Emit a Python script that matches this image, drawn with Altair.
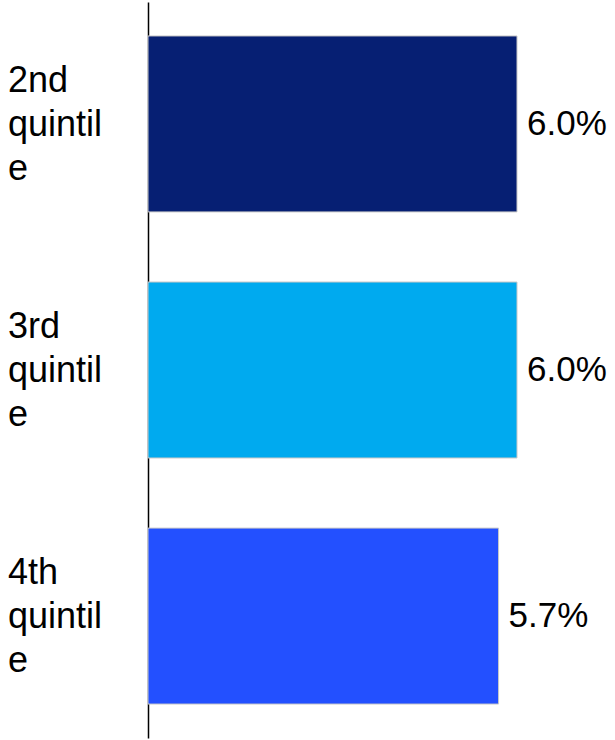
import altair as alt
import pandas as pd

categories = ["2nd\nquintil\ne", "3rd\nquintil\ne", "4th\nquintil\ne"]
values = [6.0, 6.0, 5.7]
labels = ["6.0%", "6.0%", "5.7%"]
colors = ["#061f73", "#00aaef", "#2350ff"]

df = pd.DataFrame({"cat": categories, "val": values, "lab": labels, "col": colors})

y = alt.Y("cat:N", sort=categories,
          scale=alt.Scale(paddingInner=0.285, paddingOuter=0.138),
          axis=alt.Axis(labels=False, ticks=False, title=None, domainColor="#000000",
                        domainWidth=1.5, grid=False))
x = alt.X("val:Q", scale=alt.Scale(domain=[0, 6], nice=False, zero=True), axis=None)

bars = alt.Chart(df).mark_bar(stroke="#c8c8c8", strokeWidth=1).encode(
    y=y, x=x, color=alt.Color("col:N", scale=None)
)
vals = alt.Chart(df).mark_text(align="left", baseline="middle", dx=10, fontSize=35,
                               font="Liberation Sans", color="#000000").encode(
    y=y, x=x, text="lab:N"
)
cats = alt.Chart(df).mark_text(align="left", baseline="middle", fontSize=36, dy=-43,
                               font="Liberation Sans", color="#000000",
                               lineBreak="\n", lineHeight=44).encode(
    y=y, x=alt.value(-140), text="cat:N"
)

chart = alt.layer(bars, vals, cats).properties(
    width=369, height=736,
    autosize=alt.AutoSizeParams(type="none"),
    padding={"left": 148, "top": 2, "right": 98, "bottom": 2},
).configure_view(stroke=None)

chart.save("out.html", embed_options={"renderer": "svg", "actions": False})
